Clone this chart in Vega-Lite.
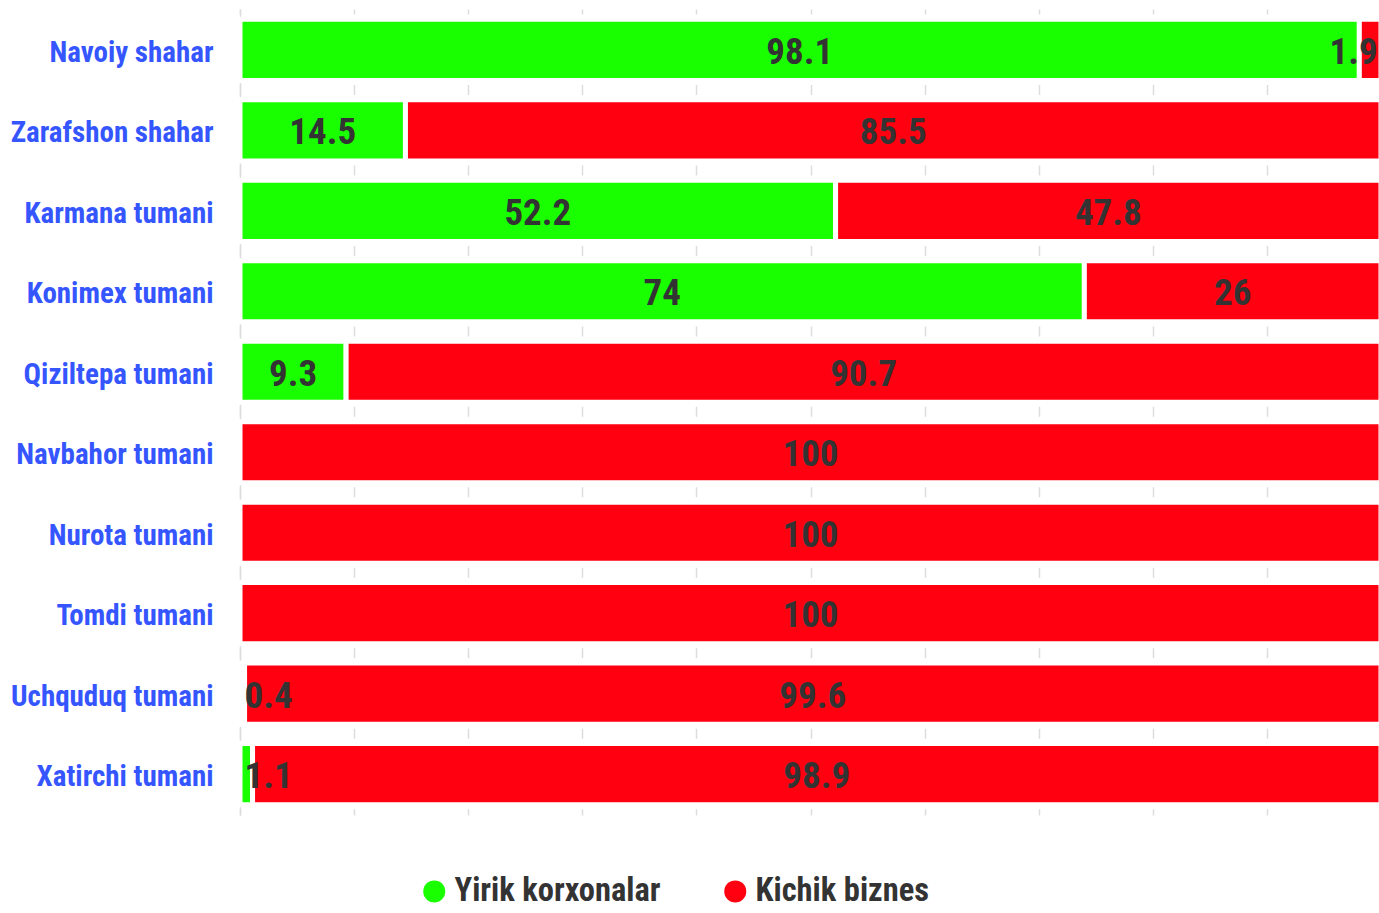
{
  "$schema": "https://vega.github.io/schema/vega-lite/v6.json",
  "width": 1141,
  "height": 806,
  "autosize": {"type": "none"},
  "padding": {"left": 240, "top": 9, "right": 0, "bottom": 98},
  "background": "white",
  "config": {"view": {"stroke": null}, "font": "Roboto Condensed, Liberation Sans Narrow, DejaVu Sans Condensed, sans-serif"},
  "data": {"values": [
    {"region": "Navoiy shahar", "series": "Yirik korxonalar", "value": 98.1},
    {"region": "Navoiy shahar", "series": "Kichik biznes", "value": 1.9},
    {"region": "Zarafshon shahar", "series": "Yirik korxonalar", "value": 14.5},
    {"region": "Zarafshon shahar", "series": "Kichik biznes", "value": 85.5},
    {"region": "Karmana tumani", "series": "Yirik korxonalar", "value": 52.2},
    {"region": "Karmana tumani", "series": "Kichik biznes", "value": 47.8},
    {"region": "Konimex tumani", "series": "Yirik korxonalar", "value": 74},
    {"region": "Konimex tumani", "series": "Kichik biznes", "value": 26},
    {"region": "Qiziltepa tumani", "series": "Yirik korxonalar", "value": 9.3},
    {"region": "Qiziltepa tumani", "series": "Kichik biznes", "value": 90.7},
    {"region": "Navbahor tumani", "series": "Kichik biznes", "value": 100},
    {"region": "Nurota tumani", "series": "Kichik biznes", "value": 100},
    {"region": "Tomdi tumani", "series": "Kichik biznes", "value": 100},
    {"region": "Uchquduq tumani", "series": "Yirik korxonalar", "value": 0.4},
    {"region": "Uchquduq tumani", "series": "Kichik biznes", "value": 99.6},
    {"region": "Xatirchi tumani", "series": "Yirik korxonalar", "value": 1.1},
    {"region": "Xatirchi tumani", "series": "Kichik biznes", "value": 98.9}
  ]},
  "transform": [
    {"stack": "value", "groupby": ["region"], "sort": [{"field": "series", "order": "descending"}], "as": ["v0", "v1"]},
    {"calculate": "min(max((datum.v0 + datum.v1) / 2, 2.5), 97.6)", "as": "mid"}
  ],
  "encoding": {
    "y": {
      "field": "region", "type": "nominal", "sort": null,
      "scale": {"paddingInner": 0.24, "paddingOuter": 0.128},
      "axis": {"title": null, "ticks": false, "domain": true, "domainColor": "#dddddd", "domainWidth": 1.5,
               "labelColor": "#3556ff", "labelFontSize": 29, "labelFontWeight": "bold", "labelPadding": 27, "labelLimit": 0, "labelOffset": 3}
    }
  },
  "layer": [
    {
      "mark": {"type": "bar", "stroke": "white", "strokeWidth": 5},
      "encoding": {
        "x": {"field": "v0", "type": "quantitative", "scale": {"domain": [0, 100]},
              "axis": {"orient": "top", "labels": false, "ticks": false, "domain": false, "title": null,
                       "grid": true, "gridDash": [10, 70.47], "gridDashOffset": 5, "gridColor": "#dddddd", "gridWidth": 1.5,
                       "values": [0, 10, 20, 30, 40, 50, 60, 70, 80, 90, 100]}},
        "x2": {"field": "v1"},
        "color": {"field": "series", "type": "nominal",
                  "scale": {"domain": ["Yirik korxonalar", "Kichik biznes"], "range": ["#1aff00", "#ff0010"]},
                  "legend": {"orient": "none", "legendX": 178, "legendY": 866, "direction": "horizontal", "title": null,
                             "symbolType": "circle", "symbolSize": 484, "symbolStrokeWidth": 0, "labelFontSize": 32.5,
                             "labelColor": "#333333", "labelFontWeight": "bold", "columnPadding": 58, "labelOffset": 4, "labelLimit": 0}}
      }
    },
    {
      "mark": {"type": "text", "fontSize": 37, "fontWeight": "bold", "color": "#333333", "baseline": "middle", "dy": 3},
      "encoding": {
        "x": {"field": "mid", "type": "quantitative"},
        "text": {"field": "value", "type": "quantitative"}
      }
    }
  ]
}
